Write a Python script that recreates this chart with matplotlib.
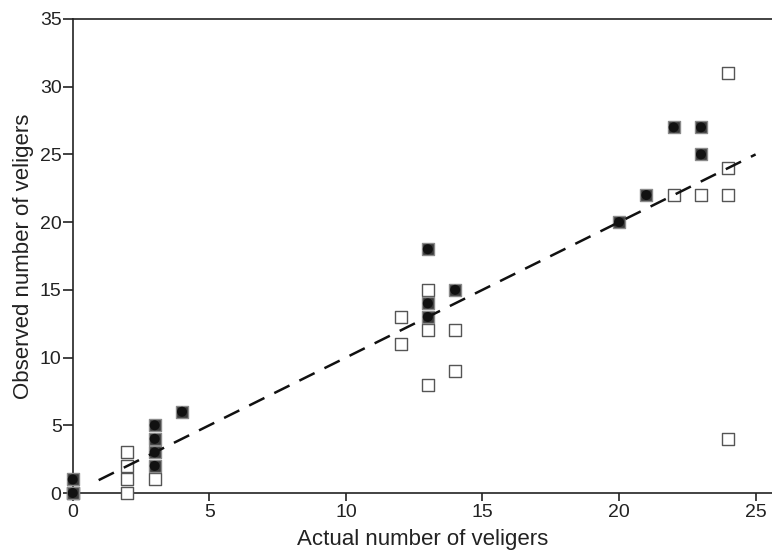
import matplotlib
matplotlib.use("Agg")
import matplotlib.pyplot as plt
import numpy as np

plt.rcParams['font.family'] = ['Liberation Sans', 'DejaVu Sans']

# Open squares (actual, observed)
open_x = [0, 2, 2, 2, 2, 3, 12, 12, 13, 13, 13, 14, 14, 22, 23, 24, 24, 24, 24]
open_y = [0, 0, 1, 2, 3, 1, 13, 11, 15, 12, 8, 12, 9, 22, 22, 31, 24, 22, 4]

# Filled points (actual, observed)
filled_x = [0, 0, 3, 3, 3, 3, 4, 13, 13, 13, 14, 20, 21, 22, 23, 23]
filled_y = [1, 0, 2, 3, 4, 5, 6, 18, 14, 13, 15, 20, 22, 27, 27, 25]

# Fitted line
fit_slope = 1.0
fit_intercept = 0.0
fit_xrange = [0.95, 25.0]

x_ticks = [0, 5, 10, 15, 20, 25]
y_ticks = [0, 5, 10, 15, 20, 25, 30, 35]

fig = plt.figure(figsize=(7.72, 5.55), dpi=100)
ax = fig.add_axes([0.0942, 0.1117, 0.9058, 0.8541])

ax.scatter(open_x, open_y, marker='s', s=72, facecolors='white',
           edgecolors='#555555', linewidths=1.0, zorder=3, clip_on=False)
ax.scatter(filled_x, filled_y, marker='s', s=72, facecolors='#3a3a3a',
           edgecolors='#8a8a8a', linewidths=1.0, zorder=4, clip_on=False)
ax.scatter(filled_x, filled_y, marker='o', s=52, facecolors='#111111',
           edgecolors='none', zorder=5, clip_on=False)

lx = np.array(fit_xrange)
ax.plot(lx, fit_intercept + fit_slope * lx, linestyle=(0, (6.8, 4.4)),
        color='#111111', linewidth=1.8, zorder=6)

ax.set_xlim(0, 25.6)
ax.set_ylim(0, 35)
ax.set_xticks(x_ticks)
ax.set_yticks(y_ticks)
ax.spines['right'].set_visible(False)
for sp in ['left', 'bottom', 'top']:
    ax.spines[sp].set_color('#222222')
    ax.spines[sp].set_linewidth(1.2)
ax.tick_params(axis='x', direction='out', length=6, width=1.2, color='#222222',
               labelsize=14, labelcolor='#222222', pad=2)
ax.tick_params(axis='y', direction='out', length=7, width=1.2, color='#222222',
               labelsize=14, labelcolor='#222222', pad=1)
ax.set_xlabel('Actual number of veligers', fontsize=16, color='#222222', labelpad=6)
ax.set_ylabel('Observed number of veligers', fontsize=16, color='#222222', labelpad=4)

fig.savefig('out.png', dpi=100)
